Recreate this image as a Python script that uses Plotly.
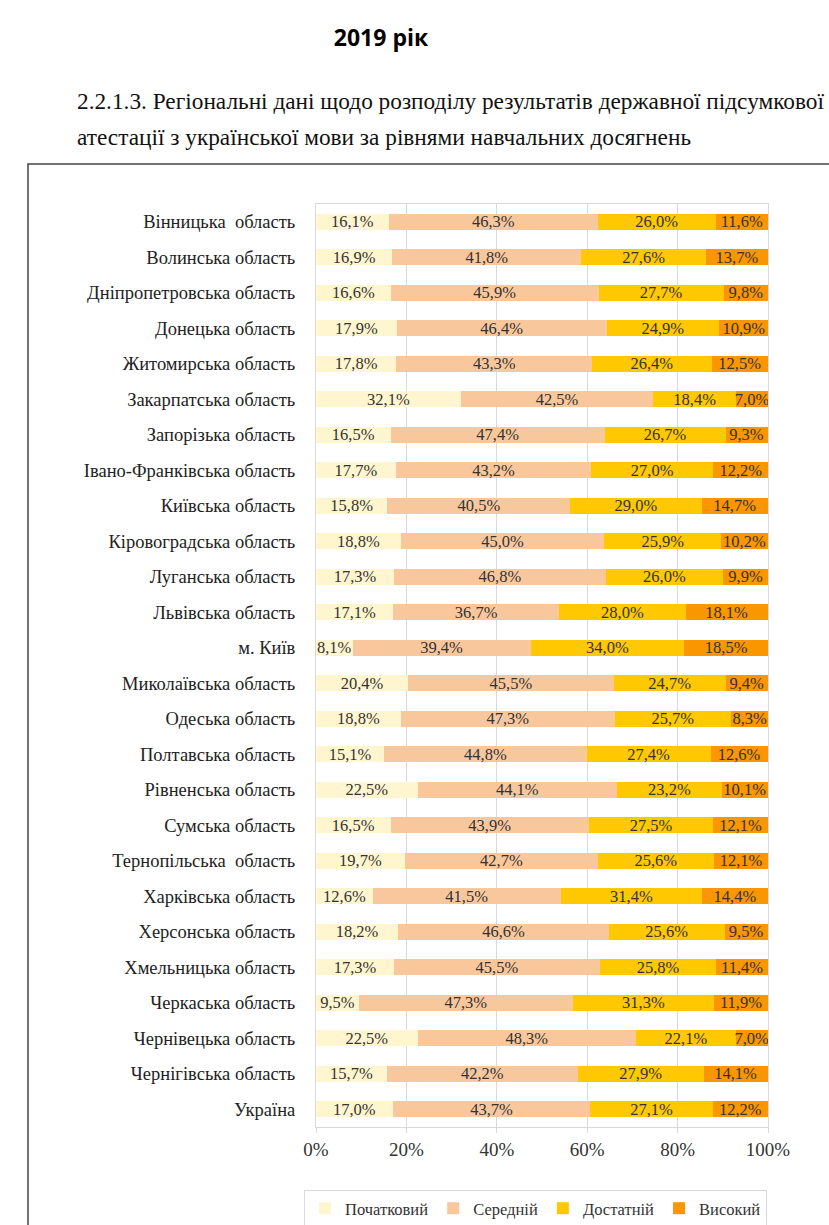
import plotly.graph_objects as go

W, H = 829, 1225
L, R, T, B = 316, 768, 204, 1127

regions = [
    "Вінницька  область", "Волинська область", "Дніпропетровська область", "Донецька область",
    "Житомирська область", "Закарпатська область", "Запорізька область",
    "Івано-Франківська область", "Київська область", "Кіровоградська область",
    "Луганська область", "Львівська область", "м. Київ", "Миколаївська область",
    "Одеська область", "Полтавська область", "Рівненська область", "Сумська область",
    "Тернопільська  область", "Харківська область", "Херсонська область",
    "Хмельницька область", "Черкаська область", "Чернівецька область",
    "Чернігівська область", "Україна",
]
pochatkovyi = [16.1, 16.9, 16.6, 17.9, 17.8, 32.1, 16.5, 17.7, 15.8, 18.8, 17.3, 17.1, 8.1,
               20.4, 18.8, 15.1, 22.5, 16.5, 19.7, 12.6, 18.2, 17.3, 9.5, 22.5, 15.7, 17.0]
serednii = [46.3, 41.8, 45.9, 46.4, 43.3, 42.5, 47.4, 43.2, 40.5, 45.0, 46.8, 36.7, 39.4,
            45.5, 47.3, 44.8, 44.1, 43.9, 42.7, 41.5, 46.6, 45.5, 47.3, 48.3, 42.2, 43.7]
dostatnii = [26.0, 27.6, 27.7, 24.9, 26.4, 18.4, 26.7, 27.0, 29.0, 25.9, 26.0, 28.0, 34.0,
             24.7, 25.7, 27.4, 23.2, 27.5, 25.6, 31.4, 25.6, 25.8, 31.3, 22.1, 27.9, 27.1]
vysokyi = [11.6, 13.7, 9.8, 10.9, 12.5, 7.0, 9.3, 12.2, 14.7, 10.2, 9.9, 18.1, 18.5,
           9.4, 8.3, 12.6, 10.1, 12.1, 12.1, 14.4, 9.5, 11.4, 11.9, 7.0, 14.1, 12.2]

series_names = ["Початковий", "Середній", "Достатній", "Високий"]
series_vals = [pochatkovyi, serednii, dostatnii, vysokyi]
colors = ["#FFF6CF", "#F9C79C", "#FFC800", "#FA9600"]

SERIF = "Liberation Serif, Times New Roman, serif"


def px_x(px):
    return (px - L) / (R - L)


def px_y(py):
    return (B - py) / (B - T)


def fmt(v):
    return f"{v:.1f}%".replace(".", ",")


fig = go.Figure()
for name, vals, col in zip(series_names, series_vals, colors):
    fig.add_trace(go.Bar(
        y=regions, x=vals, name=name, orientation="h",
        marker=dict(color=col, line=dict(width=0)),
        text=[fmt(v) for v in vals], textposition="inside",
        insidetextanchor="middle", textangle=0,
        textfont=dict(family=SERIF, size=16.5, color="#333333"),
    ))

fig.update_layout(
    width=W, height=H,
    barmode="stack", bargap=0.55,
    margin=dict(l=L, r=W - R, t=T, b=H - B, autoexpand=False),
    paper_bgcolor="white", plot_bgcolor="white",
    uniformtext=dict(minsize=16.5, mode="show"),
    showlegend=True,
    legend=dict(orientation="h", x=px_x(304), xanchor="left", y=px_y(1190), yanchor="top",
                font=dict(family=SERIF, size=16.5, color="#333333"),
                bordercolor="#d9d9d9", borderwidth=1, itemwidth=30,
                traceorder="normal", itemclick=False, itemdoubleclick=False),
    title=dict(text="<b>2019 рік</b>", x=381 / W, xanchor="center", xref="container",
               y=1 - 38 / H, yanchor="middle", yref="container",
               font=dict(family="Open Sans, sans-serif", size=23, color="#000")),
    xaxis=dict(range=[0, 100], dtick=20, ticksuffix="%", showgrid=True,
               gridcolor="#d9d9d9", gridwidth=1, zeroline=False,
               showline=True, linecolor="#d9d9d9", mirror=True,
               ticks="outside", ticklen=5, tickcolor="#d9d9d9", ticklabelstandoff=0,
               tickfont=dict(family=SERIF, size=19, color="#333333"), fixedrange=True),
    yaxis=dict(autorange="reversed", showgrid=False, showline=True, linecolor="#d9d9d9",
               mirror=True, ticks="", ticklabelstandoff=16,
               tickfont=dict(family=SERIF, size=18.5, color="#222222"), fixedrange=True),
)

fig.add_annotation(text="2.2.1.3. Регіональні дані щодо розподілу результатів державної підсумкової",
                   xref="paper", yref="paper", x=px_x(75), y=px_y(101), xanchor="left",
                   yanchor="middle", showarrow=False,
                   font=dict(family=SERIF, size=23.3, color="#111"))
fig.add_annotation(text="атестації з української мови за рівнями навчальних досягнень",
                   xref="paper", yref="paper", x=px_x(75), y=px_y(137), xanchor="left",
                   yanchor="middle", showarrow=False,
                   font=dict(family=SERIF, size=23.3, color="#111"))

fig.add_shape(type="rect", xref="paper", yref="paper",
              x0=px_x(28), x1=px_x(840), y0=px_y(164), y1=px_y(1240),
              line=dict(color="#444444", width=1.5), fillcolor="rgba(0,0,0,0)", layer="below")

fig.write_html("out.html", config={"displayModeBar": False},
               post_script="document.body.style.margin='0';")
